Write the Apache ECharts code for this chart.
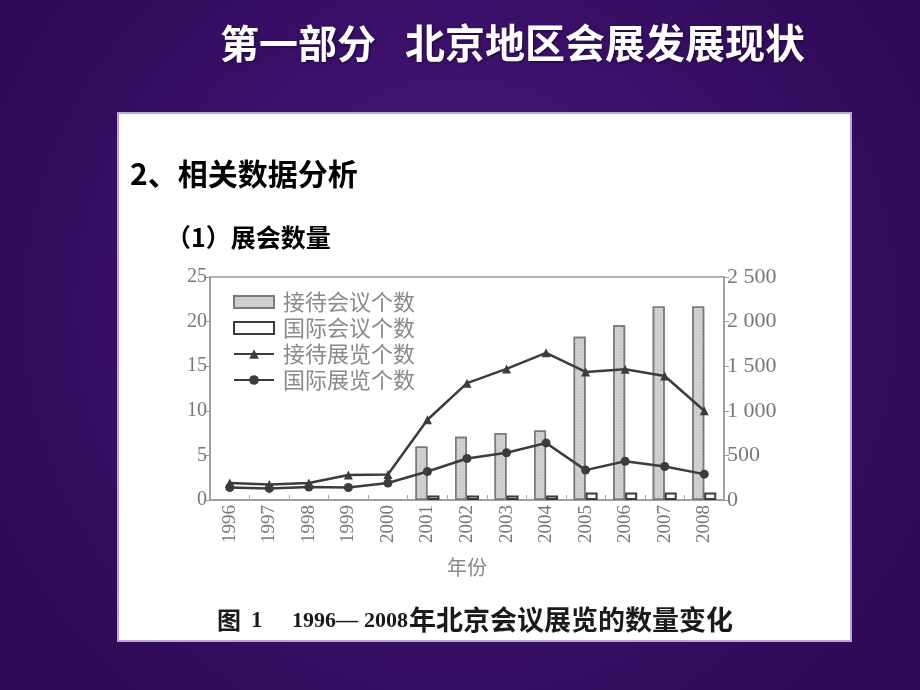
<!DOCTYPE html>
<html>
<head>
<meta charset="utf-8">
<script src="https://cdn.jsdelivr.net/npm/echarts@6/dist/echarts.min.js"></script>
<style>
html,body{margin:0;padding:0;background:#3a0e66;}
#chart{width:920px;height:690px;}
</style>
</head>
<body>
<div id="chart"></div>
<script>
// ---- data ----
const years = ['1996','1997','1998','1999','2000','2001','2002','2003','2004','2005','2006','2007','2008'];
const receptionMeetings = [null, null, null, null, null, 6.0, 7.1, 7.5, 7.8, 18.3, 19.6, 21.7, 21.7];
const internationalMeetings = [null, null, null, null, null, 0.5, 0.5, 0.5, 0.5, 0.85, 0.85, 0.85, 0.85];
const receptionExhibitions = [190, 175, 190, 280, 285, 900, 1310, 1470, 1650, 1435, 1465, 1390, 1000];
const internationalExhibitions = [140, 130, 145, 140, 190, 320, 465, 530, 640, 335, 435, 375, 290];
const leftTicks = [0, 5, 10, 15, 20, 25];
const rightTicks = [0, 500, 1000, 1500, 2000, 2500];
const seriesNames = ['接待会议个数', '国际会议个数', '接待展览个数', '国际展览个数'];

const chart = echarts.init(document.getElementById('chart'));
const lineColor = '#3c3c3c';
const serif = 'Liberation Serif, serif';

chart.setOption({
  backgroundColor: {
    type: 'radial', x: 0.5, y: 0.45, r: 0.75,
    colorStops: [{offset: 0, color: '#4a1880'}, {offset: 1, color: '#2e0a56'}]
  },
  graphic: [
    {type: 'rect', z: -10, shape: {x: 118, y: 113, width: 733, height: 528},
     style: {fill: '#ffffff', stroke: '#b9a6d6', lineWidth: 2}},
    {type: 'text', z: 10, x: 220, y: 43,
     style: {text: '第一部分', fill: '#ffffff', font: 'bold 39px "Noto Sans CJK SC"',
             align: 'left', verticalAlign: 'middle', textShadowColor: 'rgba(0,0,0,0.5)', textShadowBlur: 3, textShadowOffsetX: 1, textShadowOffsetY: 1}},
    {type: 'text', z: 10, x: 405, y: 43,
     style: {text: '北京地区会展发展现状', fill: '#ffffff', font: 'bold 40px "Noto Sans CJK SC"',
             align: 'left', verticalAlign: 'middle', textShadowColor: 'rgba(0,0,0,0.5)', textShadowBlur: 3, textShadowOffsetX: 1, textShadowOffsetY: 1}},
    {type: 'text', z: 10, x: 130, y: 174,
     style: {text: '2、相关数据分析', fill: '#000000', font: 'bold 30px "Noto Sans CJK SC"', align: 'left', verticalAlign: 'middle'}},
    {type: 'text', z: 10, x: 166, y: 237,
     style: {text: '（1）展会数量', fill: '#000000', font: 'bold 25px "Noto Sans CJK SC"', align: 'left', verticalAlign: 'middle'}},
    {type: 'text', z: 10, x: 217, y: 620,
     style: {text: '图', fill: '#1a1a1a', font: 'bold 24px "Noto Sans CJK SC"', align: 'left', verticalAlign: 'middle'}},
    {type: 'text', z: 10, x: 251, y: 621,
     style: {text: '1', fill: '#1a1a1a', font: 'bold 23px "Liberation Serif"', align: 'left', verticalAlign: 'middle'}},
    {type: 'text', z: 10, x: 292, y: 621,
     style: {text: '1996—', fill: '#1a1a1a', font: 'bold 22px "Liberation Serif"', align: 'left', verticalAlign: 'middle'}},
    {type: 'text', z: 10, x: 364, y: 621,
     style: {text: '2008', fill: '#1a1a1a', font: 'bold 22px "Liberation Serif"', align: 'left', verticalAlign: 'middle'}},
    {type: 'text', z: 10, x: 409, y: 620,
     style: {text: '年北京会议展览的数量变化', fill: '#1a1a1a', font: 'bold 27px "Noto Sans CJK SC"', align: 'left', verticalAlign: 'middle'}}
  ],
  legend: {
    orient: 'vertical', left: 228, top: 286, itemWidth: 40, itemHeight: 12, itemGap: 4,
    textStyle: {color: '#8a8a8a', fontSize: 22, fontFamily: 'Noto Sans CJK SC', padding: [0, 0, 0, 4]},
    data: [
      {name: seriesNames[0], icon: 'rect'},
      {name: seriesNames[1], icon: 'rect'},
      {name: seriesNames[2]},
      {name: seriesNames[3]}
    ]
  },
  grid: {left: 210, right: 196, top: 277, bottom: 190, show: true, borderColor: '#9a9a9a', borderWidth: 1.5, backgroundColor: 'transparent'},
  xAxis: {
    type: 'category', data: years,
    name: '年份', nameLocation: 'middle', nameGap: 57,
    nameTextStyle: {color: '#8a8a8a', fontSize: 20, fontFamily: 'Noto Sans CJK SC'},
    axisLine: {lineStyle: {color: '#9a9a9a', width: 1.5}},
    axisTick: {show: true, inside: true, length: 5, lineStyle: {color: '#aaa'}},
    axisLabel: {rotate: 90, color: '#777', fontFamily: serif, fontSize: 19, margin: 5}
  },
  yAxis: [
    {
      type: 'value', min: leftTicks[0], max: leftTicks[leftTicks.length - 1], interval: 5,
      axisLine: {show: true, lineStyle: {color: '#9a9a9a', width: 1.5}},
      axisTick: {show: true, length: 5, lineStyle: {color: '#9a9a9a'}},
      splitLine: {show: false},
      axisLabel: {margin: 3, color: '#777', fontFamily: serif, fontSize: 20}
    },
    {
      type: 'value', min: rightTicks[0], max: rightTicks[rightTicks.length - 1], interval: 500,
      axisLine: {show: true, lineStyle: {color: '#9a9a9a', width: 1.5}},
      axisTick: {show: true, length: 5, lineStyle: {color: '#9a9a9a'}},
      splitLine: {show: false},
      axisLabel: {margin: 3, color: '#777', fontFamily: serif, fontSize: 22,
        formatter: v => v >= 1000 ? Math.floor(v / 1000) + ' ' + String(v % 1000).padStart(3, '0') : String(v)}
    }
  ],
  series: [
    {
      name: seriesNames[0], type: 'bar', yAxisIndex: 0, data: receptionMeetings,
      barWidth: 12, barGap: '0%',
      itemStyle: {color: '#d2d2d2', borderColor: '#7a7a7a', borderWidth: 1.5,
        decal: {symbol: 'circle', symbolSize: 0.6, dashArrayX: [2, 1], dashArrayY: [2, 1], color: 'rgba(120,120,120,0.35)'}}
    },
    {
      name: seriesNames[1], type: 'bar', yAxisIndex: 0, data: internationalMeetings,
      barWidth: 12,
      itemStyle: {color: '#ffffff', borderColor: '#3a3a3a', borderWidth: 2}
    },
    {
      name: seriesNames[2], type: 'line', yAxisIndex: 1, data: receptionExhibitions,
      symbol: 'triangle', symbolSize: 9, z: 5,
      lineStyle: {color: lineColor, width: 2.5},
      itemStyle: {color: lineColor}
    },
    {
      name: seriesNames[3], type: 'line', yAxisIndex: 1, data: internationalExhibitions,
      symbol: 'circle', symbolSize: 9, z: 5,
      lineStyle: {color: lineColor, width: 2.5},
      itemStyle: {color: lineColor}
    }
  ]
});
</script>
</body>
</html>
